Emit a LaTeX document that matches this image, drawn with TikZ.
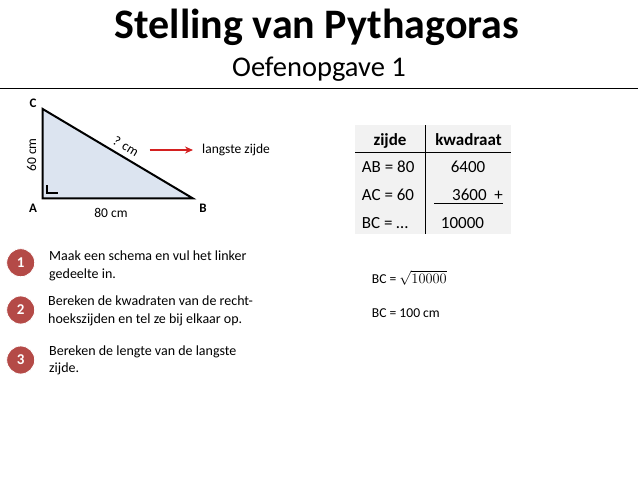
\documentclass[tikz,border=0pt]{standalone}
\usepackage{fontspec}
\setmainfont{Carlito}
\usepackage{amsmath}
\usetikzlibrary{arrows.meta}
\begin{document}
\begin{tikzpicture}[x=1pt,y=-1pt,
  lbl/.style={inner sep=0pt,font=\fontsize{13.5}{16}\selectfont},
  vtx/.style={inner sep=0pt,font=\bfseries\fontsize{13}{15}\selectfont},
  tab/.style={inner sep=0pt,anchor=base,font=\fontsize{17}{20}\selectfont},
  tabh/.style={tab,font=\bfseries\fontsize{17}{20}\selectfont},
  stepnum/.style={circle,fill=stepred,draw=white,line width=0.8pt,minimum size=28pt,inner sep=0pt,text=white,font=\bfseries\fontsize{15}{17}\selectfont},
  steptxt/.style={inner sep=0pt,anchor=base west,font=\fontsize{14}{17}\selectfont},
  res/.style={inner sep=0pt,anchor=base west,font=\fontsize{13.6}{16}\selectfont}]
\definecolor{stepred}{HTML}{B44A47}
\definecolor{trifill}{HTML}{DCE4F0}
\definecolor{tabbg}{HTML}{F2F2F2}
\definecolor{arrred}{HTML}{D42020}
\useasboundingbox (0,0) rectangle (638,479);
% title
\node[inner sep=0pt,anchor=base,font=\bfseries\fontsize{42}{46}\selectfont] (title) at (317,38.5) {Stelling van Pythagoras};
\node[inner sep=0pt,anchor=base,font=\fontsize{28.5}{32}\selectfont] (sub) at (319,76.7) {Oefenopgave 1};
\coordinate (hl) at (0,88.3);
\coordinate (hr) at (638,88.3);
\draw[line width=1.5pt] (hl) -- (hr);
% triangle
\coordinate (A) at (42.7,198.3);
\coordinate (B) at (192.7,198.3);
\coordinate (C) at (42.7,109);
\draw[fill=trifill,line width=2pt,line join=miter] (A) -- (B) -- (C) -- cycle;
\coordinate (ra1) at (47,185);
\coordinate (ra2) at (47,193);
\coordinate (ra3) at (57.5,193);
\draw[line width=1.2pt] (ra1) -- (ra2) -- (ra3);
\node[vtx] (lC) at (33,103.5) {C};
\node[vtx] (lA) at (33,208.5) {A};
\node[vtx] (lB) at (203,208.5) {B};
\node[lbl,rotate=90] (l60) at (31.5,155) {60 cm};
\node[lbl] (l80) at (111,213) {80 cm};
\node[lbl,rotate=-31] (lq) at (126,146.5) {?\,\,cm};
\coordinate (ar1) at (149.5,150);
\node[lbl,anchor=west] (lz) at (202,150) {langste zijde};
\draw[arrred,line width=1.4pt,-{Stealth[length=8pt,width=7pt]}] (ar1) -- ([xshift=-9pt]lz.west);
% table
\fill[tabbg] (355,125) rectangle (510.7,234);
\coordinate (v1) at (425.7,125);
\coordinate (v2) at (425.7,234);
\coordinate (h1) at (355,152.3);
\coordinate (h2) at (510.7,152.3);
\draw[line width=1pt] (v1) -- (v2);
\draw[line width=1pt] (h1) -- (h2);
\node[tabh] (t11) at (390,145.7) {zijde};
\node[tabh] (t12) at (468.5,145.7) {kwadraat};
\node[tab,anchor=base west] (t21) at (361.7,172.3) {AB = 80};
\node[tab] (t22) at (468,172.3) {6400};
\node[tab,anchor=base west] (t31) at (361.7,200.7) {AC = 60};
\node[tab,anchor=base east] (t32) at (503,200.7) {3600\ \ +};
\coordinate (u1) at (434,203.5);
\coordinate (u2) at (503,203.5);
\draw[line width=1pt] (u1) -- (u2);
\node[tab,anchor=base west] (t41) at (361.7,228.3) {BC = …};
\node[tab] (t42) at (462.5,228.3) {10000};
% steps
\node[stepnum] (s1) at (20.7,262.7) {1};
\node[stepnum] (s2) at (20.7,310) {2};
\node[stepnum] (s3) at (20.7,360) {3};
\node[steptxt] (d1a) at (49,260.7) {Maak een schema en vul het linker};
\node[steptxt] (d1b) at (49,278.3) {gedeelte in.};
\node[steptxt] (d2a) at (48,305.7) {Bereken de kwadraten van de recht-};
\node[steptxt] (d2b) at (48,323.3) {hoekszijden en tel ze bij elkaar op.};
\node[steptxt] (d3a) at (49,355.7) {Bereken de lengte van de langste};
\node[steptxt] (d3b) at (49,372.3) {zijde.};
% results
\node[res] (r1) at (371.7,283) {BC = $\sqrt{10000}$};
\node[res] (r2) at (371.7,317) {BC = 100 cm};
\end{tikzpicture}
\end{document}
